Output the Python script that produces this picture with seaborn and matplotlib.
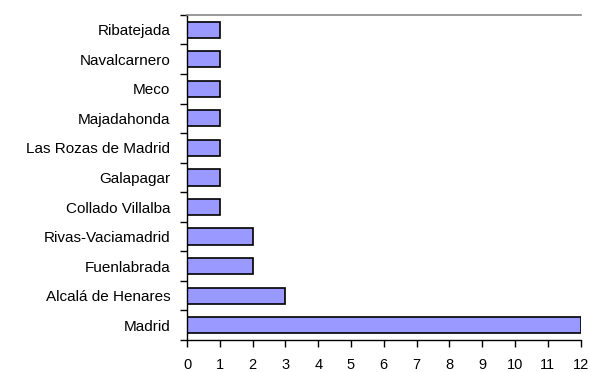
import matplotlib
matplotlib.use("Agg")
import matplotlib.pyplot as plt
import seaborn as sns
import pandas as pd
import numpy as np

municipios = ["Madrid", "Alcalá de Henares", "Fuenlabrada", "Rivas-Vaciamadrid",
              "Collado Villalba", "Galapagar", "Las Rozas de Madrid", "Majadahonda",
              "Meco", "Navalcarnero", "Ribatejada"]
valores = [12, 3, 2, 2, 1, 1, 1, 1, 1, 1, 1]

# top of the chart shows the last category
orden = municipios[::-1]
df = pd.DataFrame({"municipio": municipios, "valor": valores})

sns.set_theme(style="white")
plt.rcParams["font.family"] = ["Liberation Sans", "DejaVu Sans"]

fig = plt.figure(figsize=(5.9, 3.72), dpi=100)
ax = fig.add_axes([0.317, 0.086, 0.667, 0.874])

sns.barplot(data=df, y="municipio", x="valor", order=orden, orient="h",
            color="#9999FF", edgecolor="black", linewidth=1.2, width=0.55,
            saturation=1, ax=ax)

ax.set_xlim(0, 12)
ax.set_ylim(len(orden) - 0.5, -0.5)
ax.set_xticks(range(0, 13))
ax.set_xlabel("")
ax.set_ylabel("")

# category boundary ticks on the y axis
ax.set_yticks(np.arange(-0.5, len(orden) + 0.5, 1), minor=True)
ax.tick_params(axis="y", which="major", length=0, pad=12, labelsize=11, colors="black")
ax.tick_params(axis="y", which="minor", length=5, width=1, color="black", left=True)
ax.tick_params(axis="x", which="major", length=5, width=1, color="black",
               bottom=True, pad=8, labelsize=10.5, labelcolor="black")

for s in ["left", "bottom"]:
    ax.spines[s].set_visible(True)
    ax.spines[s].set_color("black")
    ax.spines[s].set_linewidth(1)
ax.spines["top"].set_visible(True)
ax.spines["top"].set_color("#888888")
ax.spines["top"].set_linewidth(1.2)
ax.spines["right"].set_visible(False)

fig.savefig("out.png", dpi=100, facecolor="white")
